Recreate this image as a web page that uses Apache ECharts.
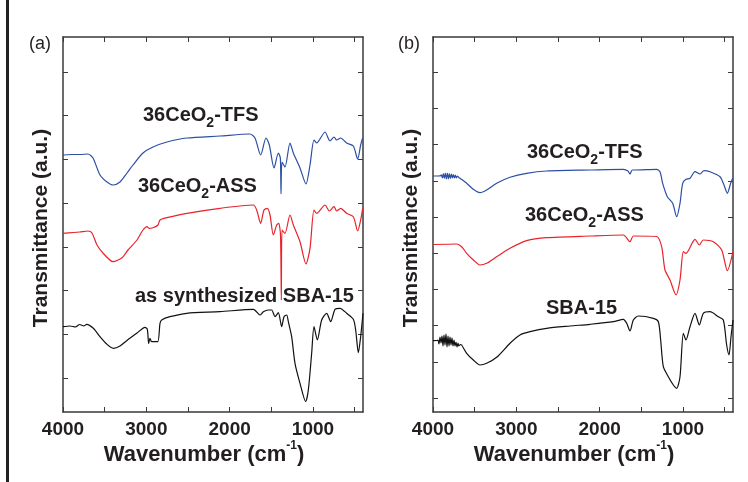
<!DOCTYPE html>
<html>
<head>
<meta charset="utf-8">
<script src="https://cdn.jsdelivr.net/npm/echarts@6/dist/echarts.min.js"></script>
<style>html,body{margin:0;padding:0;background:#fff}#chart{width:748px;height:482px}</style>
</head>
<body>
<div id="chart"></div>
<script>
// ---------- Data (wavenumber in cm-1, transmittance in a.u. offset units) ----------
// Panel (a)
const a_tfs_wn = [4000,3900,3796,3700,3640,3556,3472,3400,3316,3232,3160,3040,2920,2752,2512,2116,1756,1696,1628,1564,1524,1468,1416,1392,1384,1372,1336,1276,1236,1156,1084,1036,988,956,856,796,748,716,668,596,516,464,428,404];
const a_tfs_T  = [25.7,25.75,25.75,25.8,25.4,23.7,23.0,22.7,23.0,23.9,24.7,25.9,26.5,27.0,27.4,27.6,27.8,27.4,25.7,27.4,26.7,24.4,25.9,25.4,21.8,25.0,24.5,26.9,25.9,24.4,22.8,24.7,27.2,26.9,28.0,27.1,27.5,27.2,27.4,26.9,26.6,25.3,26.7,27.4];

const a_ass_wn = [4000,3800,3700,3652,3592,3520,3400,3292,3220,3112,3040,2992,2968,2920,2860,2836,2752,2512,2116,1716,1676,1628,1588,1548,1516,1476,1436,1412,1390,1380,1372,1336,1276,1236,1156,1084,1036,988,956,856,804,748,716,668,596,516,464,428,404];
const a_ass_T  = [17.87,18.0,18.1,17.9,16.7,15.9,15.03,15.43,16.2,17.2,18.2,18.53,18.37,18.43,18.7,19.2,19.43,19.87,20.37,20.7,20.2,18.87,20.2,20.37,19.7,17.7,18.7,18.87,17.7,11.2,18.2,17.87,19.7,18.7,17.03,14.8,16.37,20.2,19.87,20.7,20.1,20.53,20.1,20.37,19.87,19.53,18.1,19.2,20.37];

const a_sba_wn = [4000,3916,3850,3800,3750,3716,3636,3556,3476,3396,3316,3236,3116,3016,2988,2972,2956,2936,2864,2836,2816,2716,2516,2116,1716,1636,1596,1536,1496,1456,1416,1376,1348,1316,1296,1256,1216,1156,1088,1056,1016,988,948,896,836,788,736,676,596,516,488,456,428,400];
const a_sba_T  = [8.53,8.6,8.5,8.75,8.6,8.77,8.37,7.53,6.8,6.37,6.6,7.13,7.87,8.47,8.27,6.87,7.37,7.03,7.03,8.87,9.2,9.53,9.87,10.03,10.27,9.7,10.03,10.2,10.2,9.53,9.93,8.53,9.53,9.7,9.03,7.53,4.87,2.87,1.03,2.2,5.87,8.53,7.2,9.2,9.87,9.03,10.27,10.37,9.87,9.27,8.2,5.93,7.53,9.87];

// Panel (b)
const b_tfs_wn = [4000,3912,3900,3888,3876,3864,3852,3840,3828,3816,3804,3792,3780,3768,3756,3744,3732,3720,3708,3690,3676,3596,3516,3436,3356,3236,3076,2876,2636,2116,1716,1660,1636,1610,1576,1316,1276,1244,1188,1124,1076,1036,1004,964,916,856,796,748,676,556,508,468,428,404];
const b_tfs_T  = [23.6,23.62,23.72,23.4,23.85,23.35,23.9,23.3,23.9,23.3,23.85,23.35,23.8,23.4,23.75,23.4,23.7,23.4,23.6,23.45,23.37,22.87,22.27,21.93,22.2,22.87,23.47,23.87,24.1,24.2,24.27,24.1,23.8,24.2,24.2,24.27,24.03,22.87,21.53,20.87,19.53,20.87,22.87,23.27,23.37,24.03,23.8,24.13,24.03,23.53,22.7,21.87,22.87,23.37];

const b_ass_wn = [4000,3716,3656,3596,3516,3436,3356,3236,3076,2876,2636,2116,1716,1636,1596,1316,1256,1216,1156,1084,1036,996,964,856,804,756,636,536,468,400];
const b_ass_T  = [16.75,16.8,16.53,15.87,15.2,14.7,14.87,15.53,16.37,17.13,17.43,17.6,17.7,17.03,17.6,17.55,16.53,14.2,13.2,11.7,13.2,16.03,15.87,17.27,16.7,17.2,17.03,16.2,14.13,16.03];

const b_sba_wn = [4000,3952,3940,3928,3916,3904,3892,3880,3868,3856,3844,3832,3820,3808,3796,3784,3772,3760,3748,3736,3724,3712,3700,3690,3670,3656,3596,3516,3436,3356,3236,3076,2956,2836,2636,2356,2116,1836,1716,1676,1636,1596,1536,1356,1296,1268,1236,1176,1116,1076,1036,996,964,916,856,804,756,676,576,516,476,448,424,400];
const b_sba_T  = [7.13,7.15,7.2,6.8,7.5,6.9,7.6,6.6,7.7,6.7,7.8,6.5,7.6,6.6,7.5,6.7,7.4,6.6,7.2,6.6,7.0,6.5,6.9,6.6,6.75,6.7,5.87,5.2,4.7,4.87,5.47,6.87,7.7,8.03,8.37,8.6,8.77,9.03,9.27,8.87,8.1,9.2,9.6,9.37,9.03,7.2,4.53,3.53,2.7,2.37,3.53,7.87,7.2,8.53,9.87,8.7,9.87,10.03,9.53,9.2,6.7,5.7,7.53,9.2];

// Axis ticks / labels
const xTickValues  = [500,1000,1500,2000,2500,3000,3500,4000];
const xLabelValues = [1000,2000,3000,4000];
const yTicksA = [3.4,7.775,12.15,16.525,20.9,25.275,29.65,34.025];
const yTicksB = [1.4,5.02,8.64,12.26,15.88,19.5,23.12,26.74,30.36,33.98];

const seriesNames = ['36CeO2-TFS','36CeO2-ASS','SBA-15'];

// ---------- Chart ----------
const FONT = '"Liberation Sans", Arial, Helvetica, sans-serif';
const TXT = '#231f20';
const AX = '#3a3a3a';
const BLUE = '#2c4ea3', RED = '#e8232b', BLACK = '#111111';

function zip(a, b) { return a.map((v, i) => [v, b[i]]); }

const mctx = document.createElement('canvas').getContext('2d');
function tw(text, size) { mctx.font = 'bold ' + size + 'px ' + FONT; return mctx.measureText(text).width; }
// parts: [text, fontSize, dy]
function segs(x, y, parts, anchor) {
  const total = parts.reduce((s, p) => s + tw(p[0], p[1]), 0);
  let cx = anchor === 'center' ? x - total / 2 : x;
  return parts.map(p => {
    const el = { type: 'text', x: cx, y: y + p[2], silent: true,
      style: { text: p[0], font: 'bold ' + p[1] + 'px ' + FONT, fill: TXT, align: 'left', verticalAlign: 'middle' } };
    cx += tw(p[0], p[1]);
    return el;
  });
}
function ceLabel(x, y, suffix) { return segs(x, y, [['36CeO', 20, 0], ['2', 14, 8.5], [suffix, 20, 0]], 'left'); }
function xName(cx, y) { return segs(cx, y, [['Wavenumber (cm', 22, 0], ['-1', 12, -8.5], [')', 22, 0]], 'center'); }

const grids = [
  { left: 63, top: 37, width: 300, height: 375 },
  { left: 433, top: 37, width: 300, height: 375 }
];

function xAxes(gi) {
  const base = {
    type: 'value', gridIndex: gi, min: 400, max: 4000, inverse: true,
    splitLine: { show: false },
    axisLine: { show: true, onZero: false, lineStyle: { color: AX, width: 1.5 } },
    axisTick: { show: true, inside: true, length: 5, customValues: xTickValues, lineStyle: { color: AX, width: 1 } }
  };
  return [
    Object.assign({}, base, {
      position: 'bottom',
      axisLabel: { show: true, customValues: xLabelValues, formatter: v => String(v), margin: 8, color: TXT, fontFamily: FONT, fontWeight: 'bold', fontSize: 19 }
    }),
    Object.assign({}, base, { position: 'top', axisLabel: { show: false } })
  ];
}

function yAxes(gi, ticks) {
  const base = {
    type: 'value', gridIndex: gi, min: 0, max: 37.5,
    splitLine: { show: false },
    axisLine: { show: true, onZero: false, lineStyle: { color: AX, width: 1.5 } },
    axisTick: { show: true, inside: true, length: 5, customValues: ticks, lineStyle: { color: AX, width: 1 } },
    axisLabel: { show: false }
  };
  return [
    Object.assign({}, base, {
      position: 'left',
      name: 'Transmittance (a.u.)', nameLocation: 'middle', nameGap: 11,
      nameTextStyle: { fontFamily: FONT, fontWeight: 'bold', fontSize: 21, color: TXT, padding: [0, 7, 0, 0] }
    }),
    Object.assign({}, base, { position: 'right' })
  ];
}

function line(name, data, color, xi, yi) {
  return {
    name: name, type: 'line', data: data, xAxisIndex: xi, yAxisIndex: yi,
    showSymbol: false, smooth: 0.25, animation: false,
    lineStyle: { color: color, width: 1.2 }, itemStyle: { color: color }
  };
}

const option = {
  backgroundColor: '#fff',
  animation: false,
  grid: grids,
  xAxis: xAxes(0).concat(xAxes(1)),
  yAxis: yAxes(0, yTicksA).concat(yAxes(1, yTicksB)),
  series: [
    line(seriesNames[0], zip(a_tfs_wn, a_tfs_T), BLUE, 0, 0),
    line(seriesNames[1], zip(a_ass_wn, a_ass_T), RED, 0, 0),
    line('as synthesized ' + seriesNames[2], zip(a_sba_wn, a_sba_T), BLACK, 0, 0),
    line(seriesNames[0], zip(b_tfs_wn, b_tfs_T), BLUE, 2, 2),
    line(seriesNames[1], zip(b_ass_wn, b_ass_T), RED, 2, 2),
    line(seriesNames[2], zip(b_sba_wn, b_sba_T), BLACK, 2, 2)
  ],
  graphic: [
    { type: 'rect', shape: { x: 6, y: 0, width: 3, height: 482 }, style: { fill: '#222' }, silent: true },
    { type: 'text', x: 29, y: 44, style: { text: '(a)', fill: TXT, font: '18px ' + FONT, align: 'left', verticalAlign: 'middle' } },
    { type: 'text', x: 398, y: 44, style: { text: '(b)', fill: TXT, font: '18px ' + FONT, align: 'left', verticalAlign: 'middle' } }
  ].concat(
    ceLabel(143, 115, '-TFS'),
    ceLabel(138, 186, '-ASS'),
    segs(135, 296, [['as synthesized SBA-15', 20, 0]], 'left'),
    ceLabel(527, 152, '-TFS'),
    ceLabel(525, 215, '-ASS'),
    segs(546, 308, [['SBA-15', 20, 0]], 'left'),
    xName(204, 454.5),
    xName(574, 454.5)
  )
};

const chart = echarts.init(document.getElementById('chart'), null, { renderer: 'canvas' });
chart.setOption(option);
</script>
</body>
</html>
